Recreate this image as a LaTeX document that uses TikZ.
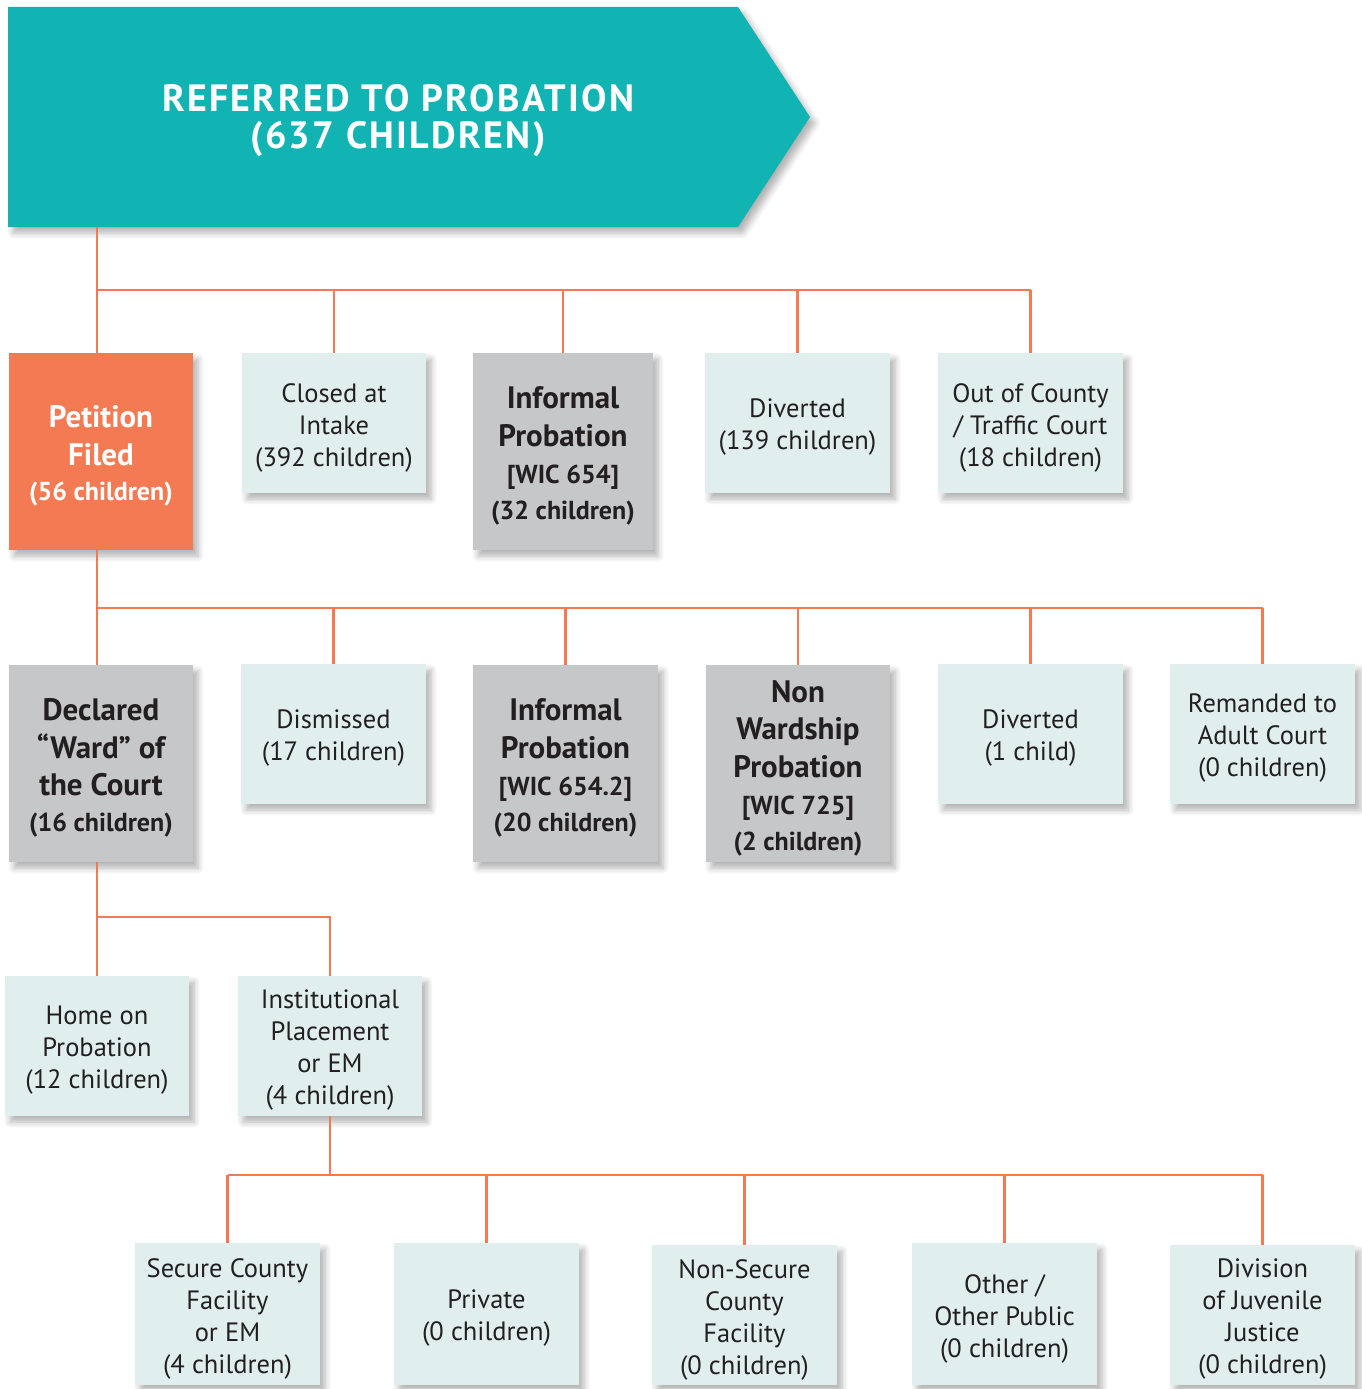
\documentclass[tikz,border=0pt]{standalone}
\usepackage{fontspec}
\setmainfont{PT Sans}
\newfontfamily\bannerfont[LetterSpace=6]{PT Sans}
\usetikzlibrary{shadows.blur}
\definecolor{teal}{HTML}{12B3B3}
\definecolor{orng}{HTML}{F37A52}
\definecolor{grayb}{HTML}{C6C7C9}
\definecolor{lightb}{HTML}{E0EFEE}
\definecolor{txt}{HTML}{231F20}
\tikzset{
  shd/.style={blur shadow={shadow xshift=5pt, shadow yshift=-6pt, shadow blur steps=6, shadow opacity=30, shadow blur radius=6pt}},
  box/.style={shd, rectangle, inner sep=0pt},
  lbox/.style={box, fill=lightb},
  gbox/.style={box, fill=grayb},
  obox/.style={box, fill=orng},
  ltxt/.style={align=center, inner sep=0pt, text=txt, font=\fontsize{26.5}{32}\selectfont},
  gtxt/.style={align=center, inner sep=0pt, text=txt, font=\fontsize{31}{37.5}\selectfont\bfseries},
  otxt/.style={align=center, inner sep=0pt, text=white, font=\fontsize{31}{37.5}\selectfont\bfseries},
  conn/.style={draw=orng, line width=2.4pt},
}
\newcommand{\smb}[1]{{\fontsize{26}{40}\selectfont #1}}
% \bx{kind}{name}{x,y}{w}{h}{text}
\newcommand{\bx}[6]{%
  \node[#1box, minimum width=#4, minimum height=#5] (#2) at (#3) {};
  \node[#1txt] (#2-t) at ([yshift=-4.5pt]#2.center) {#6};}
\begin{document}
\begin{tikzpicture}[x=1pt,y=-1pt]
\useasboundingbox (0,0) rectangle (1361,1389);
\coordinate (bb) at (97,227);
\coordinate (h1) at (0,290);
\coordinate (h2) at (0,608);
\coordinate (h3) at (0,917);
\coordinate (h4) at (0,1175);
% banner
\path[fill=teal, shd] (8,7) -- (738,7) -- (810,117) -- (738,227) -- (8,227) -- cycle;
\node[text=white, inner sep=0pt, font=\bannerfont\fontsize{38}{37}\selectfont\bfseries, align=center] (banner) at (398,121) {REFERRED TO PROBATION\\(637 CHILDREN)};
% row 1
\bx{o}{petition}{101,451.5}{184}{197}{Petition\\Filed\\[-2pt]\smb{(56 children)}}
\bx{l}{closed}{334,423}{184}{140}{Closed at\\Intake\\(392 children)}
\bx{g}{inf1}{563,451.5}{180}{197}{Informal\\Probation\\\smb{[WIC 654]}\\[-2pt]\smb{(32 children)}}
\bx{l}{div1}{797.5,423}{185}{140}{Diverted\\(139 children)}
\bx{l}{ooc}{1030.5,423}{185}{140}{Out of County\\/ Traffic Court\\(18 children)}
% row 2
\bx{g}{declared}{101,763.5}{184}{197}{Declared\\``Ward'' of\\the Court\\[-2pt]\smb{(16 children)}}
\bx{l}{dismissed}{333.5,734}{185}{140}{Dismissed\\(17 children)}
\bx{g}{inf2}{565.5,763.5}{185}{197}{Informal\\Probation\\\smb{[WIC 654.2]}\\[-2pt]\smb{(20 children)}}
\bx{g}{nonward}{798,763.5}{184}{197}{Non\\Wardship\\Probation\\\smb{[WIC 725]}\\[-2pt]\smb{(2 children)}}
\bx{l}{div2}{1030.5,734}{185}{140}{Diverted\\(1 child)}
\bx{l}{remanded}{1262.5,734}{185}{140}{Remanded to\\Adult Court\\(0 children)}
% row 3
\bx{l}{home}{97,1046}{184}{140}{Home on\\Probation\\(12 children)}
\bx{l}{inst}{330,1046}{184}{140}{Institutional\\Placement\\or EM\\(4 children)}
% row 4
\bx{l}{secure}{227.5,1314}{185}{142}{Secure County\\Facility\\or EM\\(4 children)}
\bx{l}{private}{486.5,1314}{185}{142}{Private\\(0 children)}
\bx{l}{nonsecure}{744.5,1315}{185}{140}{Non-Secure\\County\\Facility\\(0 children)}
\bx{l}{other}{1004.5,1314}{185}{142}{Other /\\Other Public\\(0 children)}
\bx{l}{division}{1262.5,1315}{185}{140}{Division\\of Juvenile\\Justice\\(0 children)}
% connectors
\draw[conn] (bb) -- (bb |- petition.north);
\draw[conn] (bb |- h1) -- (ooc.north |- h1);
\foreach \n in {closed,inf1,div1,ooc} \draw[conn] (\n.north |- h1) -- (\n.north);
\draw[conn] (bb |- petition.south) -- (bb |- declared.north);
\draw[conn] (bb |- h2) -- (remanded.north |- h2);
\foreach \n in {dismissed,inf2,nonward,div2,remanded} \draw[conn] (\n.north |- h2) -- (\n.north);
\draw[conn] (bb |- declared.south) -- (bb |- home.north);
\draw[conn] (bb |- h3) -- (inst.north |- h3) -- (inst.north);
\draw[conn] (inst.south) -- (inst.south |- h4);
\draw[conn] (secure.north |- h4) -- (division.north |- h4);
\foreach \n in {secure,private,nonsecure,other,division} \draw[conn] (\n.north |- h4) -- (\n.north);
\end{tikzpicture}
\end{document}
